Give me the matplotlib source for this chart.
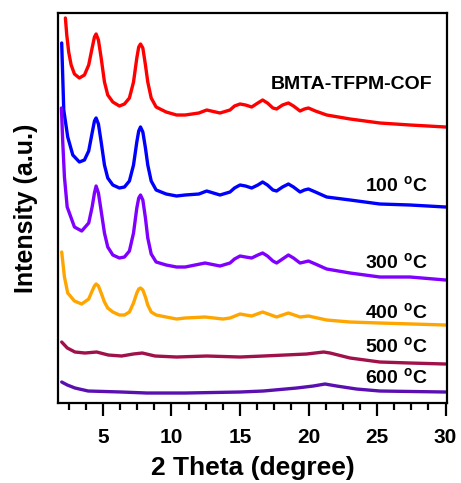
#!/usr/bin/env python

'''Stacked PXRD patterns of BMTA-TFPM-COF after heating to different temperatures'''

import matplotlib
matplotlib.use('Agg')
import matplotlib.pyplot as plt
from matplotlib.ticker import MultipleLocator, NullLocator

# 2 theta (degree) and stacked intensity (a.u.) for each pattern
x_cof = [2.26, 2.36, 2.50, 2.68, 2.92, 3.28, 3.65, 3.96, 4.21, 4.38, 4.50, 4.67, 4.87, 5.11, 5.35, 5.72,
         6.20, 6.57, 6.93, 7.23, 7.47, 7.61, 7.74, 7.91, 8.10, 8.27, 8.52, 8.88, 9.61, 10.37, 11.0,
         12.0, 12.57, 13.54, 14.27, 14.6, 15.0, 15.4, 15.85, 16.3, 16.65, 17.0, 17.4, 17.67, 18.1,
         18.53, 18.9, 19.38, 19.7, 19.99, 20.5, 21.32, 23.03, 25.2, 27.4, 30.0]
y_cof = [385, 368, 351, 338, 329, 325, 328, 338, 355, 366, 369, 363, 345, 321, 308, 301,
         297, 299, 305, 321, 345, 356, 359, 355, 338, 321, 305, 296, 291, 288, 288,
         290, 293, 290, 293, 297, 299, 298, 296, 300, 303, 300, 295, 294, 298,
         300, 297, 292, 294, 295, 292, 288, 284, 280, 278, 276]

x_100 = [1.99, 2.14, 2.43, 2.80, 3.28, 3.65, 3.96, 4.21, 4.38, 4.50, 4.67, 4.87, 5.11, 5.35, 5.72,
         6.20, 6.57, 6.93, 7.23, 7.47, 7.61, 7.74, 7.91, 8.10, 8.27, 8.52, 8.88, 9.61, 10.37, 11.0,
         12.0, 12.57, 13.54, 14.27, 14.6, 15.0, 15.4, 15.85, 16.3, 16.65, 17.0, 17.4, 17.67, 18.1,
         18.53, 18.9, 19.38, 19.7, 19.99, 20.5, 21.32, 23.03, 25.2, 27.4, 30.0]
y_100 = [360, 293, 266, 248, 241, 243, 252, 270, 282, 285, 279, 261, 238, 225, 218,
         215, 216, 222, 238, 261, 272, 276, 271, 255, 238, 222, 213, 209, 207, 208,
         209, 212, 208, 211, 215, 218, 217, 215, 218, 221, 218, 213, 212, 216,
         219, 216, 211, 213, 214, 211, 206, 203, 199, 198, 196]

x_300 = [1.97, 2.07, 2.19, 2.39, 2.55, 2.92, 3.45, 3.96, 4.21, 4.38, 4.50, 4.67, 4.87, 5.11, 5.35,
         5.72, 6.20, 6.57, 6.93, 7.23, 7.47, 7.61, 7.74, 7.91, 8.10, 8.27, 8.52, 8.88, 9.61, 10.37,
         11.0, 12.45, 13.54, 14.27, 14.6, 15.0, 15.4, 15.85, 16.3, 16.65, 17.0, 17.4, 17.67, 18.1,
         18.53, 18.9, 19.38, 19.7, 19.99, 20.5, 21.32, 23.03, 25.2, 27.4, 30.0]
y_300 = [295, 260, 226, 196, 190, 176, 172, 180, 196, 210, 217, 210, 192, 170, 156,
         148, 145, 146, 152, 170, 195, 205, 208, 203, 185, 165, 149, 141, 138, 136,
         136, 140, 137, 140, 144, 147, 146, 145, 148, 150, 147, 142, 140, 144,
         148, 145, 140, 141, 142, 139, 134, 130, 126, 126, 123]

x_400 = [1.99, 2.19, 2.43, 2.92, 3.45, 3.96, 4.21, 4.38, 4.50, 4.67, 4.87, 5.11, 5.35, 5.72, 6.20,
         6.57, 6.93, 7.23, 7.47, 7.61, 7.74, 7.91, 8.10, 8.27, 8.52, 8.88, 9.61, 10.37, 11.0, 12.45,
         13.76, 14.27, 15.0, 15.85, 16.65, 17.67, 18.53, 19.38, 19.99, 21.32, 23.03, 25.2, 30.0]
y_400 = [151, 126, 110, 102, 99, 104, 112, 117, 119, 117, 110, 101, 95, 91, 88,
         88, 91, 100, 110, 114, 115, 113, 106, 98, 91, 88, 86, 84, 85, 86,
         84, 85, 89, 87, 91, 86, 90, 86, 87, 83, 81, 80, 78]

x_500 = [1.99, 2.4, 2.96, 3.69, 4.54, 5.39, 6.36, 7.21, 7.87, 8.8, 10.37, 12.57, 15.0, 16.7, 19.86,
         21.1, 21.57, 23.03, 25.2, 27.4, 30.0]
y_500 = [61, 55, 51, 50, 51, 48, 47, 49, 50, 47, 46, 47, 46, 47, 49,
         51, 50, 45, 41, 40, 39]

x_600 = [1.99, 2.4, 2.96, 3.92, 6.36, 8.2, 11.0, 15.0, 16.7, 19.13, 20.35, 21.2, 22.05, 23.5, 25.2, 30.0]
y_600 = [21, 18, 15, 12, 11, 10, 10, 11, 12, 15, 17, 19, 17, 14, 12, 11]

labels = ['BMTA-TFPM-COF', r'100 $^{\mathrm{o}}$C', r'300 $^{\mathrm{o}}$C',
          r'400 $^{\mathrm{o}}$C', r'500 $^{\mathrm{o}}$C', r'600 $^{\mathrm{o}}$C']
label_x = [29.0, 28.7, 28.7, 28.7, 28.7, 28.7]
label_y = [318, 217, 140, 90, 56, 25]

colours = ['#ff0000', '#0000ff', '#8000ff', '#ffa500', '#a0104a', '#5a10b0']

plt.rcParams['font.family'] = ['Liberation Sans', 'DejaVu Sans']
plt.rcParams['font.weight'] = 'bold'
plt.rcParams['mathtext.fontset'] = 'custom'
plt.rcParams['mathtext.rm'] = 'Liberation Sans:bold'

fig = plt.figure(figsize=(4.61, 4.83), dpi=100)
ax = fig.add_axes([0.1258, 0.1656, 0.8438, 0.8075])

series = [(x_cof, y_cof), (x_100, y_100), (x_300, y_300), (x_400, y_400), (x_500, y_500), (x_600, y_600)]
for (xs, ys), c in zip(series, colours):
    ax.plot(xs, ys, color=c, lw=2.4, solid_joinstyle='round', solid_capstyle='round')

for text, xl, yl in zip(labels, label_x, label_y):
    ax.text(xl, yl, text, ha='right', va='center', fontsize=14, fontweight='bold')

ax.set_xlim(1.72, 30.1)
ax.set_ylim(0, 390)
ax.xaxis.set_major_locator(MultipleLocator(5))
ax.xaxis.set_minor_locator(MultipleLocator(1.25))
ax.yaxis.set_major_locator(NullLocator())
ax.tick_params(axis='x', which='major', direction='out', length=9, width=1.6, labelsize=15, pad=9)
ax.tick_params(axis='x', which='minor', direction='out', length=5, width=1.6)
for label in ax.get_xticklabels():
    label.set_fontweight('bold')
for spine in ax.spines.values():
    spine.set_linewidth(1.6)

ax.set_xlabel('2 Theta (degree)', fontsize=19, fontweight='bold')
ax.set_ylabel('Intensity (a.u.)', fontsize=18, fontweight='bold')
ax.xaxis.set_label_coords(0.5, -0.135)
ax.yaxis.set_label_coords(-0.052, 0.5)

fig.savefig('out.png', dpi=100)
